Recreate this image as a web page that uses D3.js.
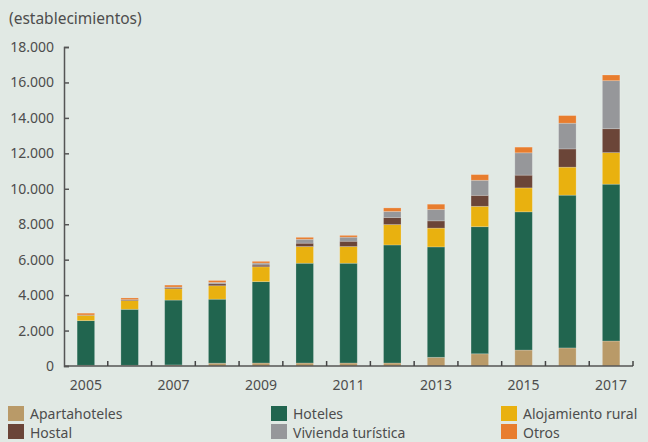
<!DOCTYPE html>
<html><head><meta charset="utf-8">
<script src="https://cdn.jsdelivr.net/npm/d3@7"></script>
<style>
html,body{margin:0;padding:0;background:#e1e9e4;}
svg{display:block;font-family:"Noto Sans",sans-serif;}
</style></head><body>
<svg id="c" width="648" height="442"></svg>
<script>
const years = ["2005","2006","2007","2008","2009","2010","2011","2012","2013","2014","2015","2016","2017"];
const seriesNames = ["Apartahoteles","Hoteles","Alojamiento rural","Hostal","Vivienda turística","Otros"];
const apartahoteles = [40,40,60,160,170,170,170,170,490,690,900,1020,1410];
const hoteles = [2520,3160,3660,3610,4590,5630,5630,6660,6230,7170,7800,8620,8850];
const alojamientoRural = [300,490,640,760,840,940,940,1150,1060,1150,1350,1580,1780];
const hostal = [20,60,75,110,95,190,300,400,410,620,720,1030,1350];
const viviendaTuristica = [0,0,20,75,110,220,230,340,640,850,1260,1450,2710];
const otros = [100,90,110,110,100,110,100,200,300,320,320,430,320];
const yTicks = [0,2000,4000,6000,8000,10000,12000,14000,16000,18000];
const xLabels = ["2005","2007","2009","2011","2013","2015","2017"];
const colors = ["#b99a68","#21654f","#e9b10f","#6b4538","#96979a","#e87d2e"];

const svg = d3.select("#c");
const m = {l:64, r:633, t:47, b:366};
const x = d3.scaleBand().domain(years).range([m.l, m.r]).paddingInner(0.6).paddingOuter(0.3);
const y = d3.scaleLinear().domain([0,18000]).range([m.b, m.t]);
const fmt = v => d3.format(",")(v).replace(/,/g,".");

const table = years.map((yr,i)=>({year:yr, "Apartahoteles":apartahoteles[i], "Hoteles":hoteles[i], "Alojamiento rural":alojamientoRural[i], "Hostal":hostal[i], "Vivienda turística":viviendaTuristica[i], "Otros":otros[i]}));
const stacked = d3.stack().keys(seriesNames)(table);

// axis title
svg.append("text").attr("x",9).attr("y",24).attr("fill","#4d4d4d").attr("font-size",15.5).text("(establecimientos)");

// y axis
const yAxis = svg.append("g").attr("transform",`translate(${m.l},0)`)
  .call(d3.axisLeft(y).tickValues(yTicks).tickFormat(fmt).tickSize(-5).tickPadding(10));
yAxis.select(".domain").attr("stroke","#555").attr("stroke-width",1.5);
yAxis.selectAll(".tick line").attr("stroke","#555").attr("stroke-width",1.5);
yAxis.selectAll("text").attr("fill","#4d4d4d").attr("font-size",14).attr("font-family","Noto Sans");

// bars
svg.append("g").selectAll("g").data(stacked).join("g")
  .attr("fill",(d,i)=>colors[i])
  .selectAll("rect").data(d=>d).join("rect")
  .attr("x",d=>x(d.data.year))
  .attr("width",x.bandwidth())
  .attr("y",d=>y(d[1]))
  .attr("height",d=>Math.max(0,y(d[0])-y(d[1])))
  .attr("stroke","rgba(255,255,255,0.25)").attr("stroke-width",0.8);

// x axis
const xg = svg.append("g").attr("transform",`translate(0,${m.b})`);
xg.append("line").attr("x1",m.l).attr("x2",m.r).attr("stroke","#555").attr("stroke-width",1.5);
const tickPos = years.slice(1).map((yr,i) => (x(years[i]) + x.bandwidth() + x(yr))/2);
tickPos.push(m.r);
xg.selectAll("line.t").data(tickPos).join("line").attr("class","t")
  .attr("x1",d=>d).attr("x2",d=>d).attr("y1",0).attr("y2",-5).attr("stroke","#444").attr("stroke-width",1.5);
xg.selectAll("text").data(xLabels).join("text")
  .attr("x",d=>x(d)+x.bandwidth()/2).attr("y",24).attr("text-anchor","middle")
  .attr("fill","#4d4d4d").attr("font-size",14).text(d=>d);

// legend
const legPos = [[8,406],[271,406],[501,406],[8,424],[271,424],[501,424]];
const legOrder = ["Apartahoteles","Hoteles","Alojamiento rural","Hostal","Vivienda turística","Otros"];
const lg = svg.append("g");
legOrder.forEach((name,i)=>{
  const [lx,ly] = legPos[i];
  lg.append("rect").attr("x",lx).attr("y",ly).attr("width",16).attr("height",15).attr("fill",colors[seriesNames.indexOf(name)]);
  lg.append("text").attr("x",lx+22).attr("y", i<3 ? 418.5 : 437.5).attr("font-size",14).attr("fill","#4d4d4d").text(name);
});
</script>
</body></html>
